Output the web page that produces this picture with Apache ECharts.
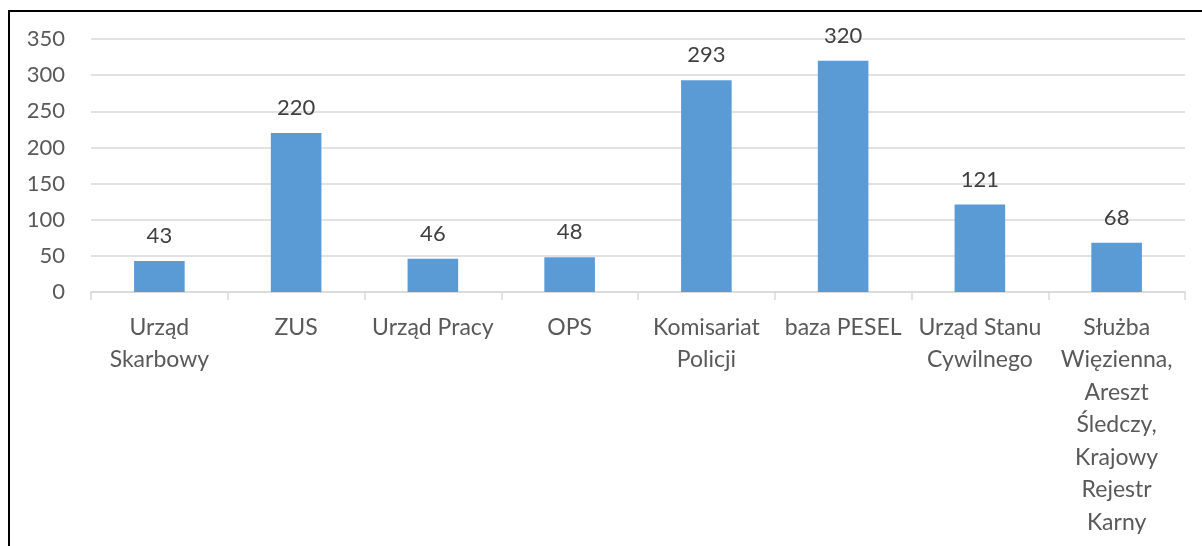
<!DOCTYPE html>
<html><head><meta charset="utf-8">
<script src="https://cdn.jsdelivr.net/npm/echarts@6/dist/echarts.min.js"></script>
<style>html,body{margin:0;padding:0;background:#fff}#c{width:1202px;height:546px}</style>
</head><body><div id="c"></div>
<script>
const categories = ["Urząd\nSkarbowy", "ZUS", "Urząd Pracy", "OPS", "Komisariat\nPolicji", "baza PESEL", "Urząd Stanu\nCywilnego", "Służba\nWięzienna,\nAreszt\nŚledczy,\nKrajowy\nRejestr\nKarny"];
const values = [43, 220, 46, 48, 293, 320, 121, 68];
const yTicks = [0, 50, 100, 150, 200, 250, 300, 350];

const chart = echarts.init(document.getElementById('c'), null, {renderer: 'canvas'});
const font = 'Lato, "Open Sans", sans-serif';
chart.setOption({
  animation: false,
  grid: {left: 91, right: 17, top: 39, bottom: 254},
  graphic: [
    {type: 'line', shape: {x1: 8, y1: 11, x2: 1202, y2: 11}, style: {stroke: '#000', lineWidth: 2}},
    {type: 'line', shape: {x1: 9, y1: 11, x2: 9, y2: 546}, style: {stroke: '#000', lineWidth: 2}}
  ],
  xAxis: {
    type: 'category', data: categories,
    axisLine: {lineStyle: {color: '#d9d9d9', width: 1.5}},
    axisTick: {show: true, length: 8, lineStyle: {color: '#d9d9d9', width: 1.5}},
    axisLabel: {color: '#595959', fontSize: 23, fontFamily: font, lineHeight: 32.5, margin: 19, interval: 0}
  },
  yAxis: {
    type: 'value', min: yTicks[0], max: yTicks[yTicks.length - 1], interval: 50,
    axisLine: {show: false}, axisTick: {show: false},
    splitLine: {lineStyle: {color: '#d9d9d9', width: 1.5}},
    axisLabel: {color: '#595959', fontSize: 22, fontFamily: font, margin: 26}
  },
  series: [{
    type: 'bar', data: values, barWidth: '37%',
    itemStyle: {color: '#5b9bd5'},
    label: {show: true, position: 'top', distance: 14, color: '#404040', fontSize: 22, fontFamily: font}
  }]
});
</script></body></html>
